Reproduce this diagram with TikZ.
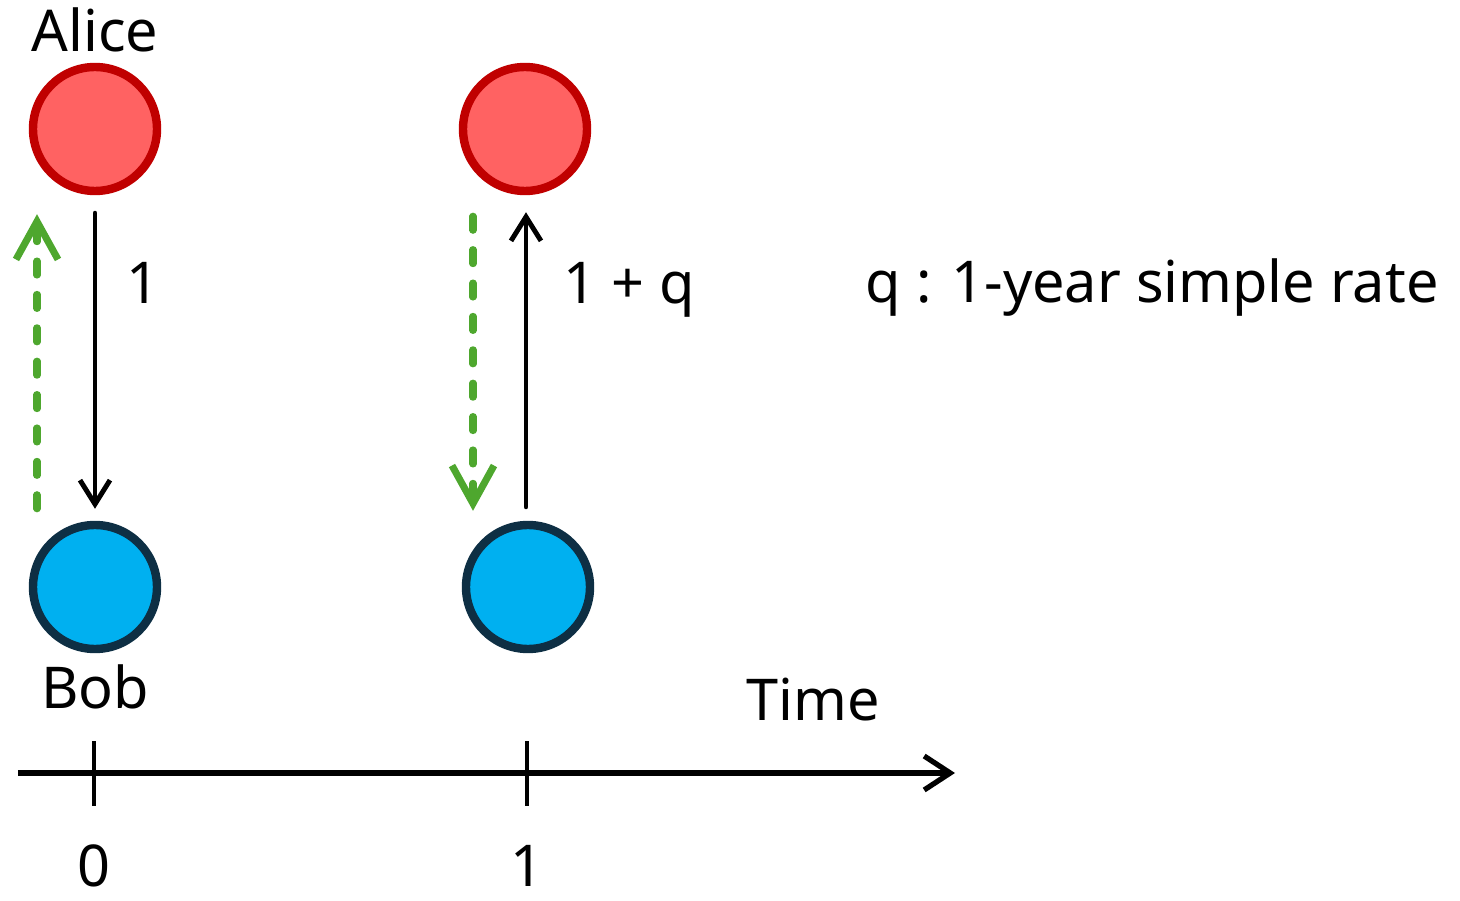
\documentclass[tikz,border=0pt]{standalone}
\usepackage{fontspec}
\setmainfont{Noto Sans}
\usetikzlibrary{arrows.meta,positioning}

\definecolor{alicefill}{HTML}{FF6262}
\definecolor{alicedraw}{HTML}{C00000}
\definecolor{bobfill}{HTML}{00B0F0}
\definecolor{bobdraw}{HTML}{0E2F44}
\definecolor{flowgreen}{HTML}{4EA72E}

\tikzset{
  alice/.style={circle, minimum size=1.24cm, fill=alicefill, draw=alicedraw, line width=2.4pt},
  bob/.style={circle, minimum size=1.24cm, fill=bobfill, draw=bobdraw, line width=2.4pt},
  cash/.style={line width=1.4pt, line cap=round, -{Straight Barb[length=2.4mm,width=3mm]}},
  claim/.style={flowgreen, line width=2pt, line cap=round, dash pattern=on 4pt off 5.5pt,
    -{Straight Barb[length=3.8mm,width=4.2mm]}},
  lbl/.style={font=\fontsize{16.4}{19}\selectfont, inner sep=0pt}
}

\begin{document}
\begin{tikzpicture}
    \useasboundingbox (0,0) rectangle (14.6,9);

    % People at time 0 and time 1
    \node[alice] (a0) at (0.95,7.71) {};
    \node[alice] (a1) at (5.25,7.71) {};
    \node[bob] (b0) at (0.95,3.13) {};
    \node[bob] (b1) at (5.28,3.13) {};
    \node[lbl, anchor=base] (alice) at (0.95,8.48) {Alice};
    \node[lbl, anchor=base] (bob) at (0.95,1.92) {Bob};

    % Cash flows
    \draw[cash, shorten <=0.18cm, shorten >=0.12cm] (a0.south) -- (b0.north);
    \draw[cash, shorten <=0.14cm, shorten >=0.17cm] (b1.north -| 5.26,0) -- (a1.south -| 5.26,0);
    \node[lbl, anchor=base] (one) at (1.43,5.96) {1};
    \node[lbl, anchor=base] (repay) at (6.29,5.96) {1 + q};

    % Claims (dashed)
    \draw[claim, shorten <=0.12cm, shorten >=0.19cm] ([xshift=-0.58cm]b0.north) -- ([xshift=-0.58cm]a0.south);
    \draw[claim, shorten <=0.21cm, shorten >=0.1cm] ([xshift=-0.52cm]a1.south) -- ([xshift=-0.52cm]a1.south |- b0.north);

    % Legend
    \node[lbl, anchor=base west] (legend) at (8.65,5.97) {q : 1-year simple rate};

    % Time axis
    \coordinate (t0) at (0.18,1.27);
    \coordinate (tend) at (9.55,1.27);
    \draw[line width=1.5pt, -{Straight Barb[length=2.6mm,width=3.4mm]}] (t0) -- (tend);
    \draw[line width=1.3pt] (0.94,1.59) -- (0.94,0.94);
    \draw[line width=1.3pt] (5.27,1.59) -- (5.27,0.94);
    \node[lbl, anchor=base] (time) at (8.13,1.80) {Time};
    \node[lbl, anchor=base] (zero) at (0.94,0.14) {0};
    \node[lbl, anchor=base] (unit) at (5.27,0.14) {1};
\end{tikzpicture}
\end{document}
